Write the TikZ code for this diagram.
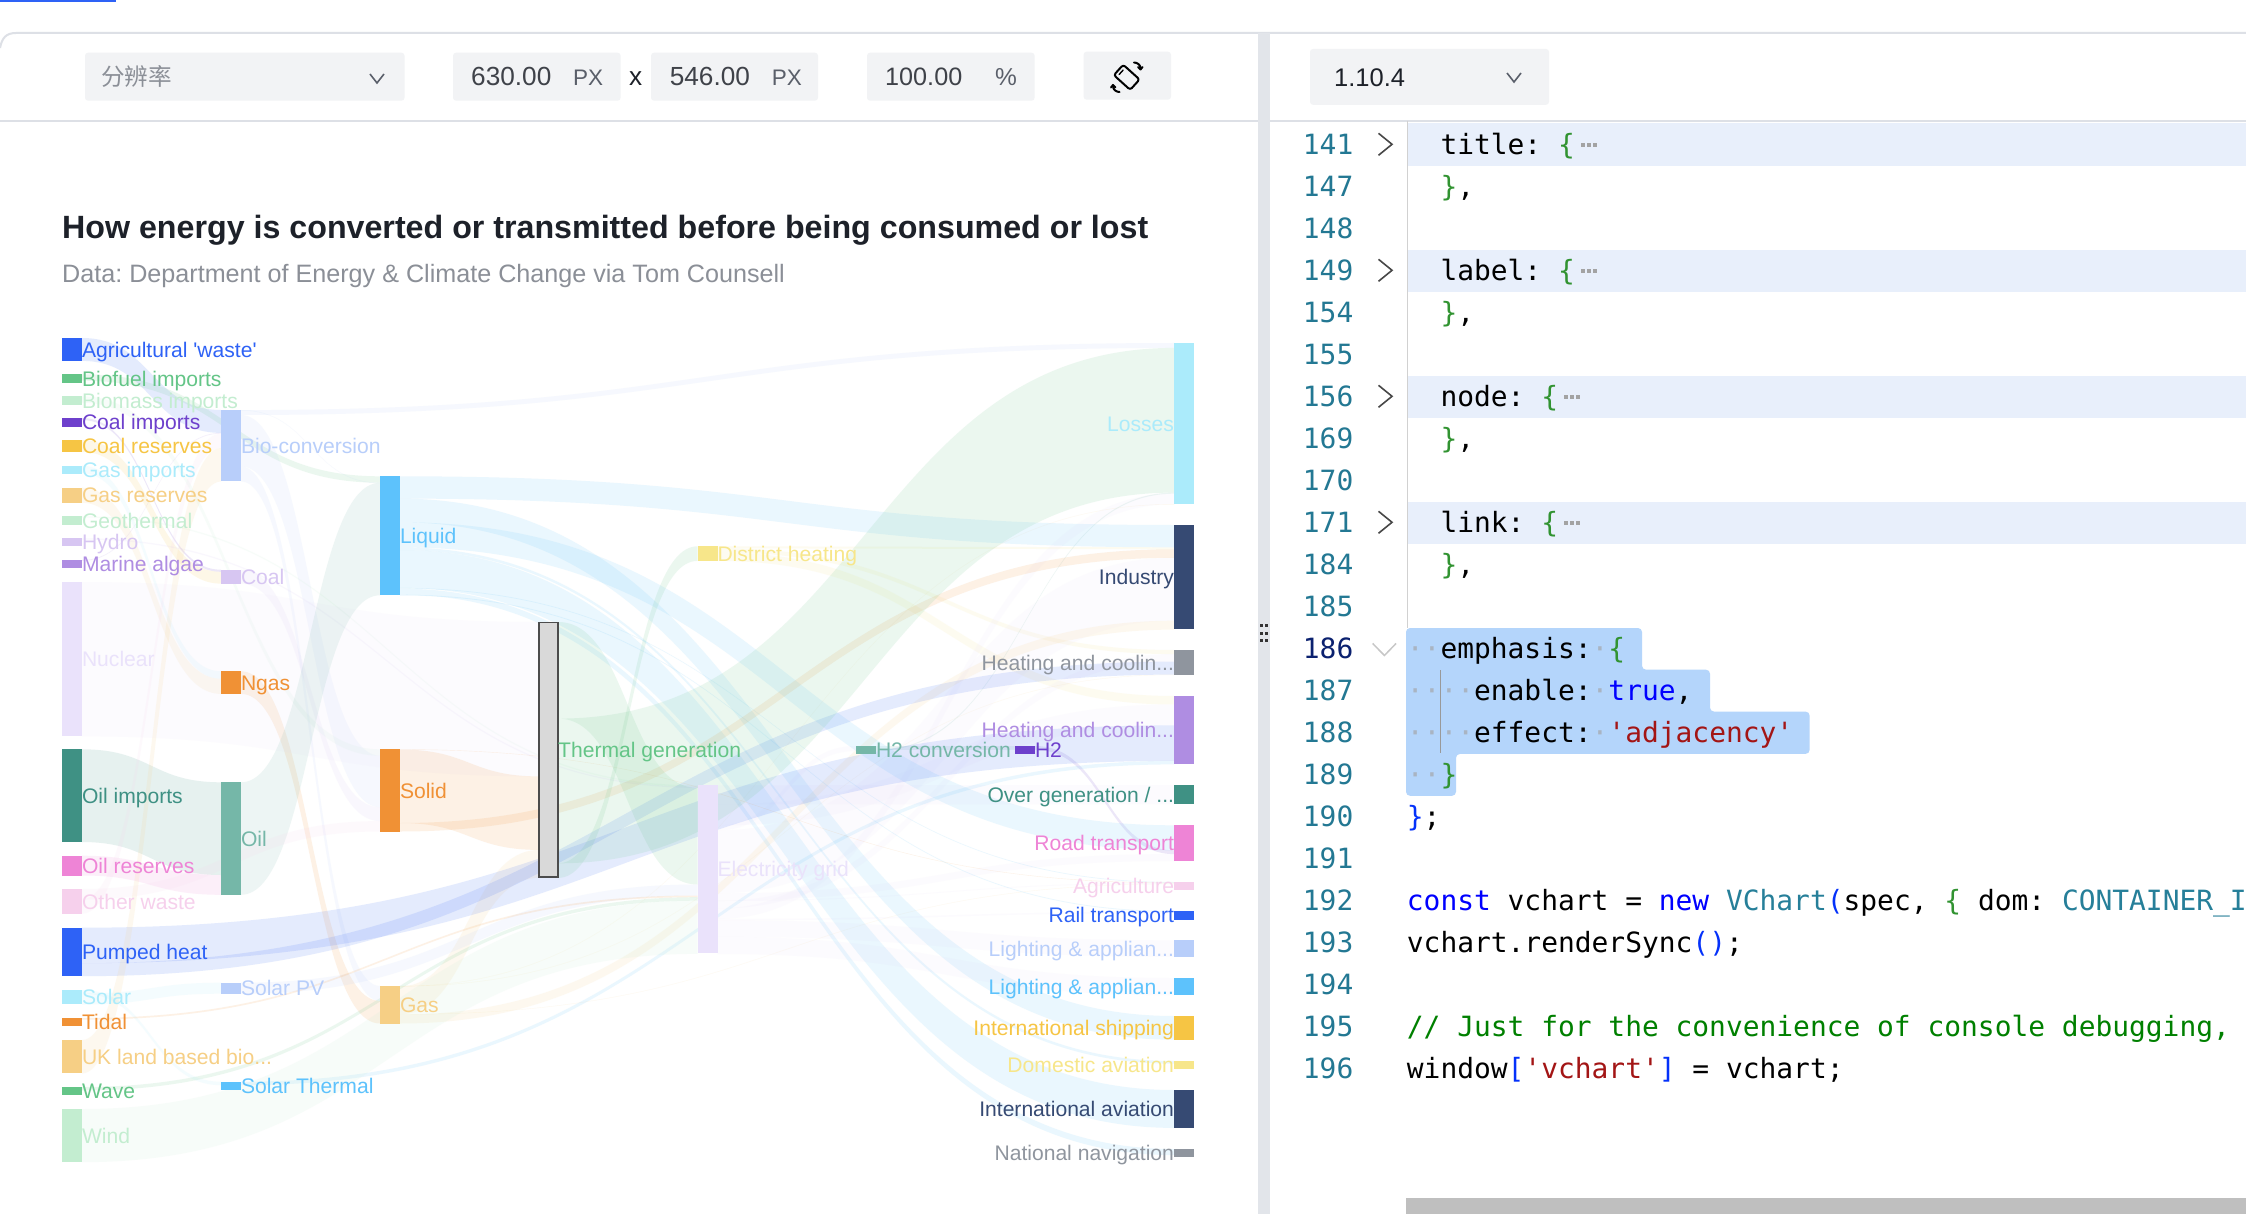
\documentclass[tikz,border=0pt]{standalone}
\usepackage{fontspec}
\setmainfont{Liberation Sans}[Ligatures=TeXOff]
\newfontfamily\monof{DejaVu Sans Mono}[Ligatures=TeXOff]
\newfontfamily\cjkf{Noto Sans CJK SC}
\usetikzlibrary{calc}
\pgfdeclarelayer{bg}
\pgfsetlayers{bg,main}
\definecolor{kBlue}{HTML}{2E62F6}
\definecolor{kGreen}{HTML}{64C587}
\definecolor{kLGreen}{HTML}{C3EDD0}
\definecolor{kPurple}{HTML}{6E40CC}
\definecolor{kYellow}{HTML}{F6C544}
\definecolor{kCyan}{HTML}{ABEBFB}
\definecolor{kLOrange}{HTML}{F6CF85}
\definecolor{kLPurple}{HTML}{D7C6F2}
\definecolor{kMPurple}{HTML}{AF8DE2}
\definecolor{kLilac}{HTML}{EAE2FB}
\definecolor{kTeal}{HTML}{3F9184}
\definecolor{kPink}{HTML}{EE84D6}
\definecolor{kLPink}{HTML}{F6D0EC}
\definecolor{kOrange}{HTML}{F09135}
\definecolor{kLBlue}{HTML}{B8CEFA}
\definecolor{kLTeal}{HTML}{75B7A8}
\definecolor{kSky}{HTML}{5DC2FC}
\definecolor{kLYellow}{HTML}{F7E68A}
\definecolor{kNavy}{HTML}{364A73}
\definecolor{kGray}{HTML}{8F959E}
\definecolor{uiLine}{HTML}{DDE0E6}
\definecolor{uiBox}{HTML}{F2F3F5}
\definecolor{uiDark}{HTML}{1D2129}
\definecolor{uiMid}{HTML}{5A5F6A}
\definecolor{uiGray}{HTML}{8B8F97}
\definecolor{lnum}{HTML}{237893}
\definecolor{lnact}{HTML}{0B216F}
\definecolor{foldbg}{HTML}{E8EFFB}
\definecolor{selbg}{HTML}{B4D5FB}
\definecolor{cbrace}{HTML}{319331}
\definecolor{cblue}{HTML}{0000FF}
\definecolor{cpar}{HTML}{0431FA}
\definecolor{cstr}{HTML}{A31515}
\definecolor{ctype}{HTML}{267F99}
\definecolor{ccom}{HTML}{008000}
\definecolor{wsdot}{HTML}{A9B4C2}
\tikzset{
  sknode/.style={rectangle,inner sep=0pt,outer sep=0pt,minimum width=20pt,draw=none},
  sklabel/.style={inner sep=0pt,outer sep=0pt,font=\fontsize{21.1}{25}\selectfont},
  skband/.style={fill opacity=0.125,draw=none},
  uibox/.style={fill=uiBox,rounded corners=3pt,draw=none},
  uitext/.style={inner sep=0pt,anchor=base west,font=\fontsize{26.2}{30}\selectfont},
  uiunit/.style={inner sep=0pt,anchor=base west,text=uiMid,font=\fontsize{22.5}{30}\selectfont},
  codetext/.style={inner sep=0pt,anchor=base west,font=\monof\fontsize{27.9}{32}\selectfont\frenchspacing},
  lnumtext/.style={inner sep=0pt,anchor=base east,text=lnum,font=\monof\fontsize{27.9}{32}\selectfont},
  chevr/.style={draw=black!72,line width=1.6pt},
  chevs/.style={draw=uiMid,line width=1.6pt},
  iconline/.style={draw=black,line width=2pt,line cap=round,line join=round},
}
\newcommand\ndR[6]{%
  \colorlet{c#1}{#5}%
  \pgfmathsetmacro\hh{#4-#3}%
  \node[sknode,fill=#5,minimum height=\hh pt,anchor=north west] (#1) at (#2,-#3) {};
  \node[sklabel,text=#5,anchor=base west,yshift=-7.6pt] (#1l) at (#1.east) {#6};
}
\newcommand\ndL[6]{%
  \colorlet{c#1}{#5}%
  \pgfmathsetmacro\hh{#4-#3}%
  \node[sknode,fill=#5,minimum height=\hh pt,anchor=north west] (#1) at (#2,-#3) {};
  \node[sklabel,text=#5,anchor=base east,yshift=-7.6pt] (#1l) at (#1.west) {#6};
}
\newcommand\rib[5]{%
  \fill[skband,fill=c#1] let \p1=(#1.east),\p2=(#2.west),\n1={(\x1+\x2)/2} in
    (\x1,-#3) .. controls (\n1,-#3) and (\n1,-#4) .. (\x2,-#4)
    -- (\x2,{-(#4+#5)}) .. controls (\n1,{-(#4+#5)}) and (\n1,{-(#3+#5)}) .. (\x1,{-(#3+#5)}) -- cycle;
}
\newcommand\cl[3]{%
  \pgfmathsetmacro\yy{154.1+42*#2}%
  \node[codetext] (#1) at (1406.7,-\yy) {#3};
}
\newcommand\fold[1]{%
  \pgfmathsetmacro\yy{144.3+42*#1}%
  \draw[chevr] (1378.5,{-\yy+11}) -- (1392,-\yy) -- (1378.5,{-\yy-11});
}
\newcommand\folddots[2]{%
  \foreach \dx in {0,6,12} {\fill[black!36] ({#1+\dx},{-#2+2}) rectangle ++(4,-4);}
}
\newcommand\wsd{\textcolor{wsdot}{·}}
\begin{document}
\begin{tikzpicture}[x=1pt,y=1pt]
\useasboundingbox (0,0) rectangle (2246,-1214);
\begin{pgfonlayer}{bg}
\fill[white] (0,0) rectangle (2246,-1214);
\end{pgfonlayer}
% --- page chrome
\fill[kBlue] (0,0) rectangle (115.5,-2);
\draw[uiLine,line width=2pt] (0,-48) .. controls (2,-38) and (6,-33) .. (16,-33) -- (2246,-33);
\draw[uiLine,line width=2pt] (0,-121) -- (2246,-121);
\fill[uiLine!85!white] (1258,-33) rectangle (1270,-1214);
\foreach \gy in {624.3,631.5,638.8} {
  \fill[black!80] (1260,-\gy) rectangle +(3,-3);
  \fill[black!80] (1265.4,-\gy) rectangle +(3,-3);
}
% toolbar
\path[uibox] (85,-52.7) rectangle (404.5,-100.7);
\node[uitext,text=uiGray,font=\cjkf\fontsize{23.6}{28}\selectfont] (res) at (101,-85.5) {分辨率};
\draw[chevs] (370,-74) -- (377,-83) -- (384,-74);
\path[uibox] (453,-52.7) rectangle (620.6,-100.7);
\node[uitext,text=uiDark!85] (wval) at (471,-86) {630.00};
\node[uiunit] (wpx) at (573,-86) {PX};
\node[uitext,text=uiDark] (xch) at (629,-86) {x};
\path[uibox] (651,-52.7) rectangle (818,-100.7);
\node[uitext,text=uiDark!85] (hval) at (669.6,-86) {546.00};
\node[uiunit] (hpx) at (771.7,-86) {PX};
\path[uibox] (867,-52.7) rectangle (1034.6,-100.7);
\node[uitext,text=uiDark!85,font=\fontsize{25.2}{30}\selectfont] (pval) at (885,-86) {100.00};
\node[uiunit,font=\fontsize{24.5}{30}\selectfont] (ppc) at (995,-86) {\%};
\path[uibox] (1083.6,-51.7) rectangle (1171,-99.7);
\begin{scope}[shift={(1126.7,-77.3)},rotate=48]
  \draw[iconline,rounded corners=2.5pt] (-7,-11) rectangle (7,11);
  \draw[iconline,line width=1.4pt] (-3,7.5) -- (3,7.5);
\end{scope}
\draw[iconline] (1134,-62.5) .. controls (1137,-62.5) and (1140.5,-64.5) .. (1140.5,-68.5);
\draw[iconline] (1138,-67) -- (1140.5,-69.5) -- (1142.5,-67);
\draw[iconline] (1119.5,-92) .. controls (1116.5,-92) and (1113,-90) .. (1113,-86);
\draw[iconline] (1115.5,-87.5) -- (1113,-85) -- (1111,-87.5);
% version selector
\path[uibox] (1310,-49) rectangle (1549,-104.8);
\node[uitext,text=uiDark,font=\fontsize{25.5}{30}\selectfont] (ver) at (1334,-87) {1.10.4};
\draw[chevs] (1507,-73) -- (1514,-82) -- (1521,-73);
% --- code panel
\fill[foldbg] (1407.4,-123) rectangle (2246,-165.7);
\fill[foldbg] (1407.4,-250) rectangle (2246,-291.8);
\fill[foldbg] (1407.4,-376) rectangle (2246,-417.6);
\fill[foldbg] (1407.4,-502) rectangle (2246,-544);
\draw[black!18,line width=1.5pt] (1407.4,-121) -- (1407.4,-628);
\fill[selbg,rounded corners=4pt] (1406,-628) -- (1642,-628) -- (1642,-669.7) -- (1710,-669.7) -- (1710,-711.6) -- (1809.6,-711.6) -- (1809.6,-753.9) -- (1456,-753.9) -- (1456,-795.8) -- (1406,-795.8) -- cycle;
\draw[black!40,line width=1.2pt] (1440.8,-670) -- (1440.8,-753);
\foreach \lnv [count=\li from 0] in {141,147,148,149,154,155,156,169,170,171,184,185,186,187,188,189,190,191,192,193,194,195,196} {
  \pgfmathsetmacro\yy{154.1+42*\li}
  \node[lnumtext] (ln\lnv) at (1353.5,-\yy) {\ifnum\lnv=186 \color{lnact}\fi\lnv};
}
\fold{0}\fold{3}\fold{6}\fold{9}
\draw[black!22,line width=1.5pt] (1372.7,-643.5) -- (1384.4,-655.5) -- (1396,-643.5);
\cl{c141}{0}{~~title: \textcolor{cbrace}{\{}}
\cl{c147}{1}{~~\textcolor{cbrace}{\}},}
\cl{c149}{3}{~~label: \textcolor{cbrace}{\{}}
\cl{c154}{4}{~~\textcolor{cbrace}{\}},}
\cl{c156}{6}{~~node: \textcolor{cbrace}{\{}}
\cl{c169}{7}{~~\textcolor{cbrace}{\}},}
\cl{c171}{9}{~~link: \textcolor{cbrace}{\{}}
\cl{c184}{10}{~~\textcolor{cbrace}{\}},}
\folddots{1581}{144.7}
\folddots{1581}{270.7}
\folddots{1564}{396.7}
\folddots{1564}{522.7}
\cl{c186}{12}{\wsd\wsd emphasis:\wsd\textcolor{cbrace}{\{}}
\cl{c187}{13}{\wsd\wsd\wsd\wsd enable:\wsd\textcolor{cblue}{true},}
\cl{c188}{14}{\wsd\wsd\wsd\wsd effect:\wsd\textcolor{cstr}{'adjacency'}}
\cl{c189}{15}{\wsd\wsd\textcolor{cbrace}{\}}}
\cl{c190}{16}{\textcolor{cpar}{\}};}
\cl{c192}{18}{\textcolor{cblue}{const} vchart = \textcolor{cblue}{new} \textcolor{ctype}{VChart}\textcolor{cpar}{(}spec, \textcolor{cbrace}{\{} dom: \textcolor{ctype}{CONTAINER\_I}}
\cl{c193}{19}{vchart.renderSync\textcolor{cpar}{()};}
\cl{c195}{21}{\textcolor{ccom}{// Just for the convenience of console debugging,}}
\cl{c196}{22}{window\textcolor{cpar}{[}\textcolor{cstr}{'vchart'}\textcolor{cpar}{]} = vchart;}
\fill[black!25] (1406,-1198) rectangle (2246,-1214);
% --- titles
\node[inner sep=0pt,anchor=base west,text=uiDark,font=\bfseries\fontsize{32.2}{36}\selectfont] (title) at (62,-238.3) {How energy is converted or transmitted before being consumed or lost};
\node[inner sep=0pt,anchor=base west,text=uiGray,font=\fontsize{25.15}{30}\selectfont\frenchspacing] (subtitle) at (62,-283) {Data: Department of Energy \& Climate Change via Tom Counsell};
% --- sankey nodes: column 1
\ndR{agri}{62}{338}{361}{kBlue}{Agricultural 'waste'}
\ndR{biofuel}{62}{374.3}{382.7}{kGreen}{Biofuel imports}
\ndR{biomass}{62}{396.3}{404.7}{kLGreen}{Biomass imports}
\ndR{coalimp}{62}{418}{426.7}{kPurple}{Coal imports}
\ndR{coalres}{62}{440}{452}{kYellow}{Coal reserves}
\ndR{gasimp}{62}{465.7}{473.7}{kCyan}{Gas imports}
\ndR{gasres}{62}{487.7}{502.7}{kLOrange}{Gas reserves}
\ndR{geo}{62}{516.3}{524.7}{kLGreen}{Geothermal}
\ndR{hydro}{62}{538.3}{546.3}{kLPurple}{Hydro}
\ndR{marine}{62}{560}{568.3}{kMPurple}{Marine algae}
\ndR{nuclear}{62}{582}{735.7}{kLilac}{Nuclear}
\ndR{oilimp}{62}{749.3}{842}{kTeal}{Oil imports}
\ndR{oilres}{62}{855.7}{875.7}{kPink}{Oil reserves}
\ndR{otherw}{62}{889}{914}{kLPink}{Other waste}
\ndR{pumped}{62}{927.7}{976}{kBlue}{Pumped heat}
\ndR{solar}{62}{990}{1004.3}{kCyan}{Solar}
\ndR{tidal}{62}{1018}{1026.3}{kOrange}{Tidal}
\ndR{ukland}{62}{1040}{1073.3}{kLOrange}{UK land based bio...}
\ndR{wave}{62}{1087}{1095.3}{kGreen}{Wave}
\ndR{wind}{62}{1109}{1162}{kLGreen}{Wind}
% column 2
\ndR{bio}{221}{410}{481.3}{kLBlue}{Bio-conversion}
\ndR{coal}{221}{569.7}{583.7}{kLPurple}{Coal}
\ndR{ngas}{221}{671.3}{694.3}{kOrange}{Ngas}
\ndR{oil}{221}{782.3}{894.7}{kLTeal}{Oil}
\ndR{solarpv}{221}{982.7}{993.7}{kLBlue}{Solar PV}
\ndR{solarth}{221}{1081.7}{1090}{kSky}{Solar Thermal}
% column 3
\ndR{liquid}{380}{476.3}{595}{kSky}{Liquid}
\ndR{solid}{380}{749.3}{831.7}{kOrange}{Solid}
\ndR{gas}{380}{986}{1023.7}{kLOrange}{Gas}
% column 4: the highlighted node
\colorlet{cthermal}{kGreen}
\node[sknode,fill=black!15,draw=black!70,line width=1.5pt,minimum width=19pt,minimum height=254.5pt,anchor=north west] (thermal) at (539.2,-622.7) {};
\node[sklabel,text=kGreen,anchor=base west,yshift=-7.6pt] (thermall) at (thermal.east) {Thermal generation};
% column 5
\ndR{district}{697.5}{546.3}{561}{kLYellow}{District heating}
\ndR{elec}{697.5}{785.3}{953.3}{kLilac}{Electricity grid}
% column 6, 7
\ndR{h2conv}{856}{746}{754.3}{kLTeal}{H2 conversion}
\ndR{h2}{1015}{746}{754.3}{kPurple}{H2}
% last column
\ndL{losses}{1174}{343}{504}{kCyan}{Losses}
\ndL{industry}{1174}{525}{629.3}{kNavy}{Industry}
\ndL{heatc}{1174}{650}{675}{kGray}{Heating and coolin...}
\ndL{heath}{1174}{696}{764}{kMPurple}{Heating and coolin...}
\ndL{overgen}{1174}{785}{804.3}{kTeal}{Over generation / ...}
\ndL{road}{1174}{825.3}{860.7}{kPink}{Road transport}
\ndL{agriculture}{1174}{882}{890.3}{kLPink}{Agriculture}
\ndL{rail}{1174}{911}{919.7}{kBlue}{Rail transport}
\ndL{lightc}{1174}{940.3}{957}{kLBlue}{Lighting \& applian...}
\ndL{lighth}{1174}{978}{995}{kSky}{Lighting \& applian...}
\ndL{ship}{1174}{1016}{1040}{kYellow}{International shipping}
\ndL{domestic}{1174}{1061}{1069.3}{kLYellow}{Domestic aviation}
\ndL{intav}{1174}{1090}{1127.7}{kNavy}{International aviation}
\ndL{natnav}{1174}{1149}{1157.3}{kGray}{National navigation}
% --- sankey links
\begin{pgfonlayer}{bg}
\rib{agri}{bio}{338}{410}{22.9}
\rib{bio}{liquid}{410}{482.7}{.5}
\rib{bio}{losses}{410.1}{343}{4.9}
\rib{bio}{solid}{415}{755.7}{51.5}
\rib{bio}{gas}{466.5}{986}{14.9}
\rib{biofuel}{liquid}{374.3}{476.3}{6.4}
\rib{biomass}{solid}{396.3}{749.3}{6.4}
\rib{coalimp}{coal}{418}{569.7}{2.1}
\rib{coalres}{coal}{440}{571.8}{11.8}
\rib{coal}{solid}{569.7}{807.2}{13.9}
\rib{district}{industry}{546.3}{547.3}{2}
\rib{district}{heatc}{548.3}{650}{4.1}
\rib{district}{heath}{552.4}{696}{8.5}
\rib{elec}{overgen}{785.3}{785}{19.2}
\rib{elec}{heath}{804.5}{704.5}{20.9}
\rib{elec}{h2conv}{825.4}{746}{5}
\rib{elec}{industry}{830.4}{557.8}{62.9}
\rib{elec}{road}{893.3}{854.1}{6.9}
\rib{elec}{agriculture}{900.2}{882.9}{.8}
\rib{elec}{heatc}{901}{654.1}{7.5}
\rib{elec}{losses}{908.5}{493.7}{10.4}
\rib{elec}{rail}{918.9}{911.8}{1.4}
\rib{elec}{lightc}{920.3}{940.3}{16.5}
\rib{elec}{lighth}{936.8}{978}{17.2}
\rib{gasimp}{ngas}{465.7}{671.3}{7.5}
\rib{gasres}{ngas}{487.7}{678.8}{15.1}
\rib{gas}{heatc}{986}{674.6}{.4}
\rib{gas}{losses}{986}{504.1}{.4}
\rib{gas}{thermal}{986.3}{849.9}{27.9}
\rib{gas}{agriculture}{1014.2}{883.7}{.4}
\rib{gas}{industry}{1014.6}{620.7}{8.9}
\rib{geo}{elec}{516.3}{785.3}{1.3}
\rib{h2conv}{h2}{746}{746}{3.8}
\rib{h2conv}{losses}{749.8}{492.6}{1.1}
\rib{h2}{road}{746}{850.3}{3.8}
\rib{hydro}{elec}{538.3}{786.6}{1.3}
\rib{liquid}{industry}{476.3}{525}{22.3}
\rib{liquid}{ship}{498.6}{1016}{23.7}
\rib{liquid}{road}{522.3}{825.3}{25}
\rib{liquid}{domestic}{547.3}{1061}{2.7}
\rib{liquid}{intav}{550}{1090}{37.9}
\rib{liquid}{agriculture}{587.9}{882}{.7}
\rib{liquid}{natnav}{588.6}{1149}{6.1}
\rib{liquid}{rail}{594.7}{911}{.8}
\rib{marine}{bio}{560}{432.9}{.8}
\rib{ngas}{gas}{671.3}{1000.9}{22.6}
\rib{nuclear}{thermal}{582}{622}{154.4}
\rib{oilimp}{oil}{749.3}{782.3}{92.7}
\rib{oilres}{oil}{855.7}{875}{19.8}
\rib{oil}{liquid}{782.3}{482.8}{112.5}
\rib{otherw}{solid}{889}{821.1}{10.4}
\rib{otherw}{bio}{899.4}{433.7}{14.3}
\rib{pumped}{heath}{927.7}{725.4}{35.5}
\rib{pumped}{heatc}{963.2}{661.6}{13}
\rib{solarpv}{elec}{982.7}{884.5}{11}
\rib{solarth}{heath}{1081.7}{760.9}{3.5}
\rib{solar}{solarth}{990}{1081.7}{3.5}
\rib{solar}{solarpv}{993.5}{982.7}{11}
\rib{solid}{agriculture}{749.3}{882.7}{.4}
\rib{solid}{thermal}{749.5}{776.4}{73.5}
\rib{solid}{industry}{823}{549.3}{8.5}
\rib{thermal}{elec}{622}{787.9}{96.6}
\rib{thermal}{losses}{718.6}{347.9}{144.7}
\rib{thermal}{district}{863.3}{546.3}{14.6}
\rib{tidal}{elec}{1018}{895.5}{1.7}
\rib{ukland}{bio}{1040}{448}{33.5}
\rib{wave}{elec}{1087}{897.2}{3.5}
\rib{wind}{elec}{1109}{900.7}{53.2}
\end{pgfonlayer}
\end{tikzpicture}
\end{document}
